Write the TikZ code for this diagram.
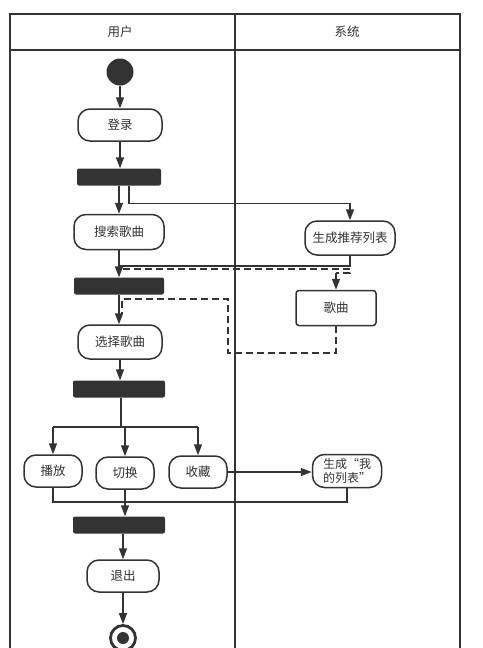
\documentclass[tikz,border=0pt]{standalone}
\usepackage{fontspec}
\setmainfont{Noto Sans CJK SC}
\usetikzlibrary{arrows.meta}
\definecolor{ink}{HTML}{333333}
\tikzset{
  ln/.style={draw=ink, line width=1.5pt},
  tip/.style={-{Triangle[length=11pt,width=8pt]}},
  arr/.style={ln, tip},
  dsh/.style={ln, dash pattern=on 7pt off 4pt},
  act/.style={draw=ink, line width=1.5pt, rounded corners=12pt, fill=white,
    font=\fontsize{12.5}{15}\selectfont, inner sep=0pt, text=ink},
  bar/.style={fill=ink, rounded corners=2pt, minimum height=17pt, inner sep=0pt},
  hdr/.style={font=\fontsize{12.5}{15}\selectfont, text=ink}
}
\begin{document}
\begin{tikzpicture}[x=1pt,y=-1pt]
\useasboundingbox (0,0) rectangle (482,648);
% swimlanes
\draw[ln] (10,660) -- (10,14) -- (460,14) -- (460,660);
\draw[ln] (10,50) -- (460,50);
\draw[ln] (235,14) -- (235,660);
\node[hdr] (h1) at (120,32) {用户};
\node[hdr] (h2) at (347,32) {系统};
% nodes
\node[circle, fill=ink, minimum size=27pt, inner sep=0pt] (start) at (120,72) {};
\node[act, minimum width=84pt, minimum height=32pt] (login) at (120,125) {登录};
\node[bar, minimum width=84pt] (bar1) at (119,177) {};
\node[act, minimum width=90pt, minimum height=35pt] (search) at (119,232) {搜索歌曲};
\node[act, minimum width=90pt, minimum height=34pt] (gen) at (350,238) {生成推荐列表};
\node[bar, minimum width=90pt] (bar2) at (119,286) {};
\node[act, rounded corners=3pt, minimum width=80pt, minimum height=35pt] (song) at (336,308) {歌曲};
\node[act, minimum width=84pt, minimum height=34pt] (select) at (120,342) {选择歌曲};
\node[bar, minimum width=92pt] (bar3) at (119,389) {};
\node[act, minimum width=58pt, minimum height=32pt] (play) at (53,471) {播放};
\node[act, minimum width=58pt, minimum height=32pt] (switch) at (125,473) {切换};
\node[act, minimum width=58pt, minimum height=32pt] (fav) at (198,472) {收藏};
\node[act, minimum width=69pt, minimum height=33pt, align=left,
  font=\fontsize{12}{14.5}\selectfont] (mylist) at (347,471) {生成“我\\的列表”};
\node[bar, minimum width=92pt] (bar4) at (119,525) {};
\node[act, minimum width=72pt, minimum height=32pt] (quit) at (123,576) {退出};
\node[circle, draw=ink, line width=2.8pt, fill=white, minimum size=25pt, inner sep=0pt] (end) at (123,638) {};
\node[circle, fill=ink, minimum size=12pt, inner sep=0pt] (endin) at (end.center) {};
% coordinates
\coordinate (j1) at (119,266);
\coordinate (d1) at (123,269);
\coordinate (d2) at (350,269);
\coordinate (d3) at (350,273);
\coordinate (d4) at (336,273);
\coordinate (e1) at (336,353);
\coordinate (e2) at (228,353);
\coordinate (e3) at (228,299);
\coordinate (e4) at (122,299);
\coordinate (e5) at (122,314);
\coordinate (f) at (121,427);
\coordinate (fl) at (53,427);
\coordinate (fr) at (198,427);
\coordinate (j2) at (347,502);
% connectors
\draw[arr] (start) -- (login);
\draw[arr] (login.south) -- (login.south |- bar1.north);
\draw[arr] (bar1.south) -- (search.north);
\draw[arr] ([xshift=10pt]bar1.south) -- ++(0,18) -| (gen.north);
\draw[arr] (search.south) -- (search.south |- bar2.north);
\draw[ln] (gen.south) |- (j1);
\draw[dsh] (d1) -- (d2) -- (d3) -- (d4);
\draw[dsh, tip] (d4) -- (song.north);
\draw[dsh] (song.south) -- (e1) -- (e2) -- (e3) -- (e4) -- (e5);
\draw[arr] (bar2.south) -- (bar2.south |- select.north);
\draw[arr] (select.south) -- (select.south |- bar3.north);
\draw[ln] (bar3.south -| f) -- (f);
\draw[ln] (fl) -- (fr);
\draw[arr] (fl) -- (play.north);
\draw[arr] (switch.north |- f) -- (switch.north);
\draw[arr] (fr) -- (fav.north);
\draw[arr] (fav.east) -- (fav.east -| mylist.west);
\draw[ln] (play.south) |- (j2) -- (mylist.south);
\draw[arr] (switch.south) -- (switch.south |- bar4.north);
\draw[arr] (bar4.south -| quit.north) -- (quit.north);
\draw[arr] (quit.south) -- (end.north);
\end{tikzpicture}
\end{document}
